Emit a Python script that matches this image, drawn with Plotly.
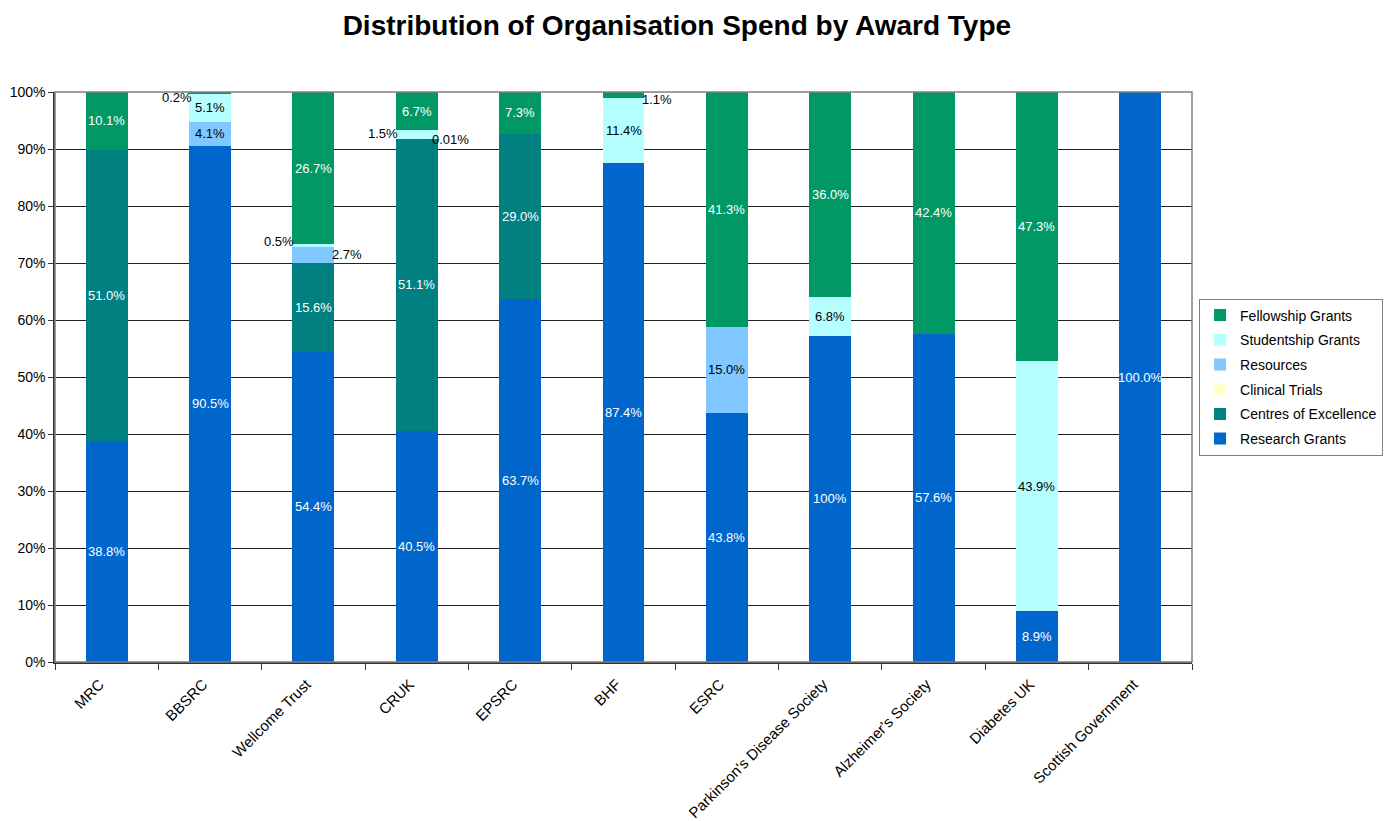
import plotly.graph_objects as go

categories = ["MRC", "BBSRC", "Wellcome Trust", "CRUK", "EPSRC", "BHF", "ESRC",
              "Parkinson's Disease Society", "Alzheimer's Society", "Diabetes UK",
              "Scottish Government"]

research = [38.8, 90.5, 54.4, 40.5, 63.7, 87.4, 43.8, 57.2, 57.6, 8.9, 100.0]
centres = [51.0, 0, 15.6, 51.1, 29.0, 0, 0, 0, 0, 0, 0]
clinical = [0, 0, 0, 0, 0, 0, 0, 0, 0, 0, 0]
resources = [0, 4.1, 2.7, 0.01, 0, 0, 15.0, 0, 0, 0, 0]
studentship = [0, 5.1, 0.5, 1.5, 0, 11.4, 0, 6.8, 0, 43.9, 0]
fellowship = [10.1, 0.2, 26.7, 6.7, 7.3, 1.1, 41.3, 36.0, 42.4, 47.3, 0]

research_lbl = ["38.8%", "90.5%", "54.4%", "40.5%", "63.7%", "87.4%", "43.8%", "100%", "57.6%", "8.9%", "100.0%"]
centres_lbl = ["51.0%", None, "15.6%", "51.1%", "29.0%", None, None, None, None, None, None]
clinical_lbl = [None] * 11
resources_lbl = [None, "4.1%", "2.7%", "0.01%", None, None, "15.0%", None, None, None, None]
studentship_lbl = [None, "5.1%", "0.5%", "1.5%", None, "11.4%", None, "6.8%", None, "43.9%", None]
fellowship_lbl = ["10.1%", "0.2%", "26.7%", "6.7%", "7.3%", "1.1%", "41.3%", "36.0%", "42.4%", "47.3%", None]

y_ticks = [0, 10, 20, 30, 40, 50, 60, 70, 80, 90, 100]
y_tick_text = ["0%", "10%", "20%", "30%", "40%", "50%", "60%", "70%", "80%", "90%", "100%"]

series = [
    ("Research Grants", research, research_lbl, "#0066CC", "white"),
    ("Centres of Excellence", centres, centres_lbl, "#008080", "white"),
    ("Clinical Trials", clinical, clinical_lbl, "#FFFFCC", "black"),
    ("Resources", resources, resources_lbl, "#80C8FF", "black"),
    ("Studentship Grants", studentship, studentship_lbl, "#B5FFFF", "black"),
    ("Fellowship Grants", fellowship, fellowship_lbl, "#009966", "white"),
]

# labels placed beside the bar: (series name, category) -> (x pixel shift, y pixel shift)
outside = {
    ("Fellowship Grants", "BBSRC"): (-33, -5),
    ("Studentship Grants", "Wellcome Trust"): (-34, 4),
    ("Resources", "Wellcome Trust"): (34, 0),
    ("Studentship Grants", "CRUK"): (-34, 1),
    ("Resources", "CRUK"): (34, -1),
    ("Fellowship Grants", "BHF"): (33, -4),
}

FONT = "Arial, Liberation Sans, sans-serif"
fig = go.Figure()
annotations = []
totals = [sum(s[1][i] for s in series) for i in range(len(categories))]
base = [0.0] * len(categories)
n = len(series)
for k, (name, vals, lbls, color, tcolor) in enumerate(series):
    pct = [v / t * 100 for v, t in zip(vals, totals)]
    fig.add_trace(go.Bar(name=name, x=categories, y=pct, marker_color=color,
                         marker_line_width=0, legendgroup=name, legendrank=n - k))
    for i, cat in enumerate(categories):
        if lbls[i] is not None:
            yc = base[i] + pct[i] / 2
            key = (name, cat)
            if key in outside:
                dx, dy = outside[key]
                annotations.append(dict(x=cat, y=yc, text=lbls[i], showarrow=False,
                                        xshift=dx, yshift=dy,
                                        font=dict(color="black", size=13, family=FONT)))
            else:
                annotations.append(dict(x=cat, y=yc, text=lbls[i], showarrow=False,
                                        font=dict(color=tcolor, size=13, family=FONT)))
        base[i] += pct[i]

fig.update_layout(
    barmode="stack",
    bargap=0.594,
    width=1387, height=821,
    margin=dict(l=55, r=195, t=92, b=159, autoexpand=False),
    paper_bgcolor="white", plot_bgcolor="white",
    font=dict(family=FONT, color="black"),
    title=dict(text="<b>Distribution of Organisation Spend by Award Type</b>",
               x=0.488, xanchor="center", y=0.969, yanchor="middle",
               font=dict(size=28, family=FONT, color="black")),
    showlegend=True,
    legend=dict(xref="container", x=0.8645, xanchor="left", y=0.5, yanchor="middle",
                traceorder="grouped", tracegroupgap=3.5,
                bordercolor="#808080", borderwidth=1,
                font=dict(size=14, family=FONT, color="black"),
                itemwidth=30),
    annotations=annotations,
)
fig.update_xaxes(showline=True, linecolor="#333333", linewidth=1.5,
                 tickson="boundaries", ticks="outside", ticklen=6, tickcolor="#333333",
                 tickangle=-45, tickfont=dict(size=15, family=FONT, color="black"),
                 ticklabelshift=-7, ticklabelstandoff=6,
                 showgrid=False, mirror=False, automargin=False)
fig.update_yaxes(range=[0, 100], tickvals=y_ticks, ticktext=y_tick_text,
                 showline=True, linecolor="#333333", linewidth=1.5,
                 ticks="outside", ticklen=5, tickcolor="#333333",
                 showgrid=True, gridcolor="#222222", gridwidth=1,
                 tickfont=dict(size=14, family=FONT, color="black"), zeroline=False,
                 automargin=False)
# grey plot area border (top/right)
fig.add_shape(type="rect", xref="paper", yref="paper", x0=0, y0=0, x1=1, y1=1,
              line=dict(color="#808080", width=1.5), layer="above")
fig.write_html("out.html", config={"displayModeBar": False},
               post_script="document.body.style.margin='0';document.body.style.overflow='hidden';")
